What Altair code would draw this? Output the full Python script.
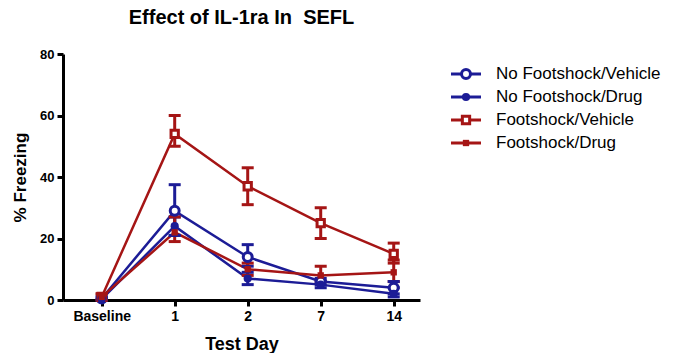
import altair as alt
import pandas as pd

days = ["Baseline", "1", "2", "7", "14"]
series = ["No Footshock/Vehicle", "No Footshock/Drug", "Footshock/Vehicle", "Footshock/Drug"]
colors = ["#1c1c96", "#1c1c96", "#a51515", "#a51515"]
shapes = ["circle", "circle", "square", "square"]
open_marker = [True, False, True, False]
sizes = [80, 40, 140, 120]

mean_nf_veh = [0.5, 29, 14, 6, 4]
low_nf_veh = [0, 21, 11, 5, 2]
high_nf_veh = [1, 37.5, 18, 7, 6]

mean_nf_drug = [0.3, 24, 7, 5, 2]
low_nf_drug = [0, 21, 5, 4, 1]
high_nf_drug = [1, 27, 9, 6, 4]

mean_fs_veh = [1, 54, 37, 25, 15]
low_fs_veh = [0, 50, 31, 20, 12]
high_fs_veh = [2, 60, 43, 30, 18.5]

mean_fs_drug = [1, 22, 10, 8, 9]
low_fs_drug = [0, 19, 8, 6, 6]
high_fs_drug = [2, 27, 12, 11, 13]

means = [mean_nf_veh, mean_nf_drug, mean_fs_veh, mean_fs_drug]
lows = [low_nf_veh, low_nf_drug, low_fs_veh, low_fs_drug]
highs = [high_nf_veh, high_nf_drug, high_fs_veh, high_fs_drug]

rows = []
for s, m, lo, hi, op in zip(series, means, lows, highs, open_marker):
    for i, d in enumerate(days):
        rows.append({"series": s, "day": d, "idx": i, "mean": m[i], "low": lo[i], "high": hi[i], "open": op})
df = pd.DataFrame(rows)

FONT = "Liberation Sans"
color_scale = alt.Scale(domain=series, range=colors)
shape_scale = alt.Scale(domain=series, range=shapes)
size_scale = alt.Scale(domain=series, range=sizes)
no_border = alt.ViewBackground(stroke="transparent", strokeWidth=0)

label_expr = "[" + ",".join("'" + d + "'" for d in days) + "][datum.value]"

x_enc = alt.X("idx:Q", scale=alt.Scale(domain=[-0.53, 4.36], nice=False, zero=False),
              axis=alt.Axis(values=list(range(len(days))), labelExpr=label_expr, title="Test Day",
                            grid=False, labelFont=FONT, labelFontSize=14, labelFontWeight="bold",
                            labelColor="black", titleFont=FONT, titleFontSize=18, titleFontWeight="bold",
                            titleColor="black", domainColor="black", domainWidth=3, tickColor="black",
                            tickWidth=3, tickSize=6, labelPadding=3, titlePadding=12))
y_enc = alt.Y("mean:Q", scale=alt.Scale(domain=[0, 80], nice=False),
              axis=alt.Axis(values=[0, 20, 40, 60, 80], title="% Freezing", grid=False,
                            labelFont=FONT, labelFontSize=13, labelFontWeight="bold", labelColor="black",
                            titleFont=FONT, titleFontSize=17, titleFontWeight="bold", titleColor="black",
                            domainColor="black", domainWidth=3, tickColor="black", tickWidth=3,
                            tickSize=6, labelPadding=3, titlePadding=10))

base = alt.Chart(df)
lines = base.mark_line(strokeWidth=2.5).encode(
    x=x_enc, y=y_enc, color=alt.Color("series:N", scale=color_scale, legend=None), detail="series:N")
rules = base.mark_rule(strokeWidth=3).encode(
    x="idx:Q", y="low:Q", y2="high:Q", color=alt.Color("series:N", scale=color_scale, legend=None))
cap_lo = base.mark_tick(orient="horizontal", size=12, thickness=3, opacity=1).encode(
    x="idx:Q", y="low:Q", color=alt.Color("series:N", scale=color_scale, legend=None))
cap_hi = base.mark_tick(orient="horizontal", size=12, thickness=3, opacity=1).encode(
    x="idx:Q", y="high:Q", color=alt.Color("series:N", scale=color_scale, legend=None))
pts_open = base.transform_filter("datum.open").mark_point(
    filled=True, fill="white", strokeWidth=3, opacity=1, fillOpacity=1, strokeOpacity=1).encode(
    x="idx:Q", y="mean:Q",
    stroke=alt.Stroke("series:N", scale=color_scale, legend=None),
    shape=alt.Shape("series:N", scale=shape_scale, legend=None),
    size=alt.Size("series:N", scale=size_scale, legend=None))
pts_fill = base.transform_filter("!datum.open").mark_point(filled=True, opacity=1).encode(
    x="idx:Q", y="mean:Q",
    color=alt.Color("series:N", scale=color_scale, legend=None),
    shape=alt.Shape("series:N", scale=shape_scale, legend=None),
    size=alt.Size("series:N", scale=size_scale, legend=None))

main = alt.layer(lines, rules, cap_lo, cap_hi, pts_open, pts_fill).properties(
    width=357, height=246, view=no_border,
    title=alt.TitleParams("Effect of IL-1ra In \u00a0SEFL", font=FONT, fontSize=20, fontWeight="bold",
                          color="black", offset=20))

# legend panel
leg_df = pd.DataFrame({"series": series, "open": open_marker})
leg_y = alt.Y("series:N", scale=alt.Scale(type="point", domain=series, range=[20, 89], padding=0), axis=None)
leg_base = alt.Chart(leg_df)
leg_line = leg_base.mark_rule(strokeWidth=3).encode(
    x=alt.value(12), x2=alt.value(42), y=leg_y,
    color=alt.Color("series:N", scale=color_scale, legend=None))
leg_open = leg_base.transform_filter("datum.open").mark_point(
    filled=True, fill="white", strokeWidth=3, opacity=1, fillOpacity=1, strokeOpacity=1).encode(
    x=alt.value(27), y=leg_y,
    stroke=alt.Stroke("series:N", scale=color_scale, legend=None),
    shape=alt.Shape("series:N", scale=shape_scale, legend=None),
    size=alt.Size("series:N", scale=size_scale, legend=None))
leg_fill = leg_base.transform_filter("!datum.open").mark_point(filled=True, opacity=1).encode(
    x=alt.value(27), y=leg_y,
    color=alt.Color("series:N", scale=color_scale, legend=None),
    shape=alt.Shape("series:N", scale=shape_scale, legend=None),
    size=alt.Size("series:N", scale=size_scale, legend=None))
leg_text = leg_base.mark_text(align="left", baseline="middle", font=FONT, fontSize=17, color="black").encode(
    x=alt.value(57), y=leg_y, text="series:N")
legend = alt.layer(leg_line, leg_open, leg_fill, leg_text).properties(width=240, height=246, view=no_border)

chart = alt.hconcat(main, legend, spacing=19).resolve_scale(
    color="independent", shape="independent", size="independent", stroke="independent"
).properties(padding={"left": 11, "top": 8, "right": 0, "bottom": 0}).configure_view(
    strokeWidth=0, stroke="transparent").configure(background="white")

chart.save("out.html", embed_options={"renderer": "svg", "actions": False})
